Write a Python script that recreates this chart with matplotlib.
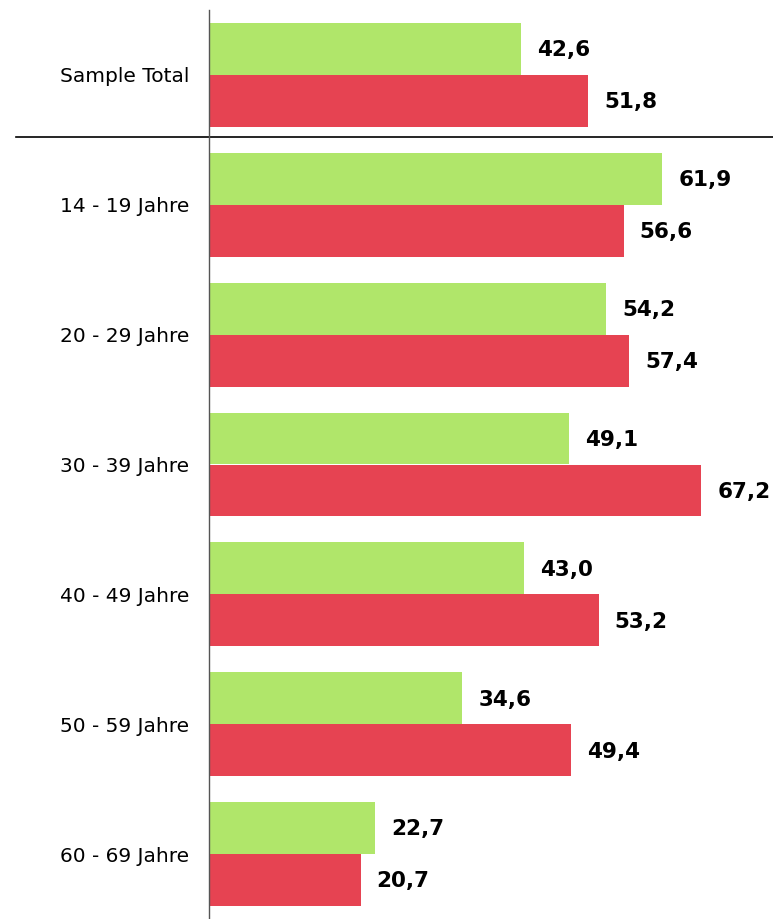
import matplotlib

matplotlib.use("Agg")
import matplotlib.pyplot as plt
import numpy as np
from matplotlib.transforms import blended_transform_factory

categories = [
    "Sample Total",
    "14 - 19 Jahre",
    "20 - 29 Jahre",
    "30 - 39 Jahre",
    "40 - 49 Jahre",
    "50 - 59 Jahre",
    "60 - 69 Jahre",
]
green_values = [42.6, 61.9, 54.2, 49.1, 43.0, 34.6, 22.7]
red_values = [51.8, 56.6, 57.4, 67.2, 53.2, 49.4, 20.7]

GREEN = "#b0e66a"
RED = "#e64352"

plt.rcParams["font.family"] = ["DejaVu Sans"]

fig = plt.figure(figsize=(7.73, 9.19), dpi=100)
W, H = 773, 919
ax = fig.add_axes([209 / W, 0, (W - 209) / W, (919 - 10) / H])

y = np.arange(len(categories))
h = 0.4
ax.barh(y - h / 2, green_values, height=h, color=GREEN)
ax.barh(y + h / 2, red_values, height=h, color=RED)


def fmt(v):
    return f"{v:.1f}".replace(".", ",")


for yi, g, r in zip(y, green_values, red_values):
    ax.annotate(fmt(g), (g, yi - h / 2), xytext=(11.5, -1), textcoords="offset points",
                va="center", ha="left", fontsize=15.5, fontweight="bold")
    ax.annotate(fmt(r), (r, yi + h / 2), xytext=(11.5, -1), textcoords="offset points",
                va="center", ha="left", fontsize=15.5, fontweight="bold")

ax.set_xlim(0, 77)
ax.set_ylim(len(categories) - 0.5, -0.5)
ax.set_yticks(y)
ax.set_yticklabels(categories, fontsize=14.5)
ax.tick_params(axis="y", length=0, pad=14)
ax.set_xticks([])
for side in ("top", "right", "bottom"):
    ax.spines[side].set_visible(False)
ax.spines["left"].set_color("#555555")
ax.spines["left"].set_linewidth(1)

# separator between the total and the age groups
trans = blended_transform_factory(ax.transAxes, ax.transData)
ax.plot([(16 - 209) / (W - 209), 1], [0.477, 0.477], color="black", lw=1.2,
        transform=trans, clip_on=False)

fig.savefig("out.png", dpi=100)
